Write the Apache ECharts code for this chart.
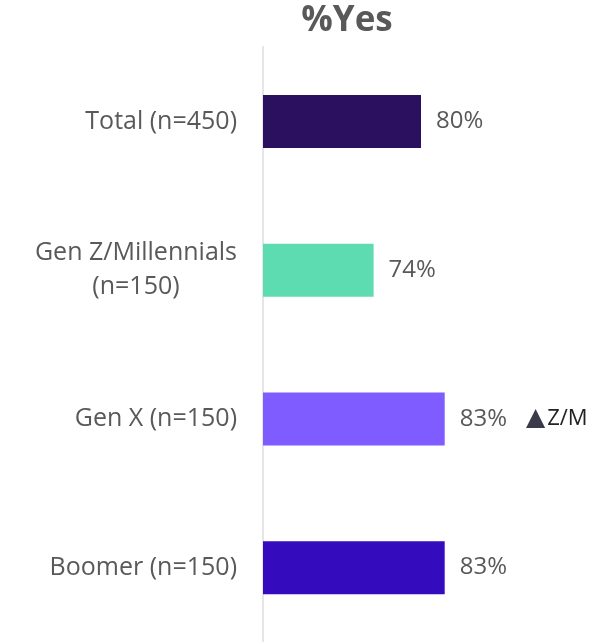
<!DOCTYPE html>
<html><head><meta charset="utf-8">
<script src="https://cdn.jsdelivr.net/npm/echarts@6/dist/echarts.min.js"></script>
<style>html,body{margin:0;padding:0;background:#fff}#c{width:608px;height:642px}</style>
</head><body><div id="c"></div>
<script>
var categories = ["Total (n=450)", "Gen Z/Millennials\n(n=150)", "Gen X (n=150)", "Boomer (n=150)"];
var values = [80, 74, 83, 83];
var colors = ["#2b1060", "#5ddcb2", "#7f5cff", "#340bbd"];
var sigLabels = ["", "", "Z/M", ""];
var chart = echarts.init(document.getElementById('c'));
chart.setOption({
  animation: false,
  title: {text: "%Yes", left: 342, textAlign: 'center', top: -1,
    textStyle: {fontFamily: 'Open Sans', fontWeight: 'bold', fontSize: 35, color: '#595959'}},
  grid: {left: 263, top: 47, width: 316, height: 597},
  xAxis: {type: 'value', min: 60, max: 100, show: false},
  yAxis: {type: 'category', inverse: true, data: categories,
    axisLine: {show: true, lineStyle: {color: '#e6e6e6', width: 2}},
    axisTick: {show: false},
    axisLabel: {fontFamily: 'Open Sans', fontSize: 25, color: '#595959', margin: 26, lineHeight: 34, align: 'right',
      formatter: function(v){ return v.split('\n').map(function(s){ return '{c|' + s + '}'; }).join('\n'); },
      rich: {c: {fontFamily: 'Open Sans', fontSize: 25, color: '#595959', lineHeight: 34, align: 'center'}}}},
  series: [{
    type: 'bar', barWidth: 53,
    data: values.map(function(v, i){ return {value: v, itemStyle: {color: colors[i]}}; }),
    label: {show: true, position: 'right', distance: 15,
      fontFamily: 'Open Sans', fontSize: 24, color: '#595959',
      formatter: function(p){ var s = sigLabels[p.dataIndex]; return '{v|' + p.value + '%}' + (s ? '{sp|}{tri|▲}{sig|' + s + '}' : ''); },
      rich: {v: {fontFamily: 'Open Sans', fontSize: 24, color: '#595959'},
        sp: {width: 19},
        tri: {fontSize: 25, color: '#3a3a48', fontFamily: 'DejaVu Sans'},
        sig: {fontFamily: 'Open Sans', fontSize: 22, color: '#222', padding: [0, 0, 0, 2]}}
    }
  }]
});
</script></body></html>
